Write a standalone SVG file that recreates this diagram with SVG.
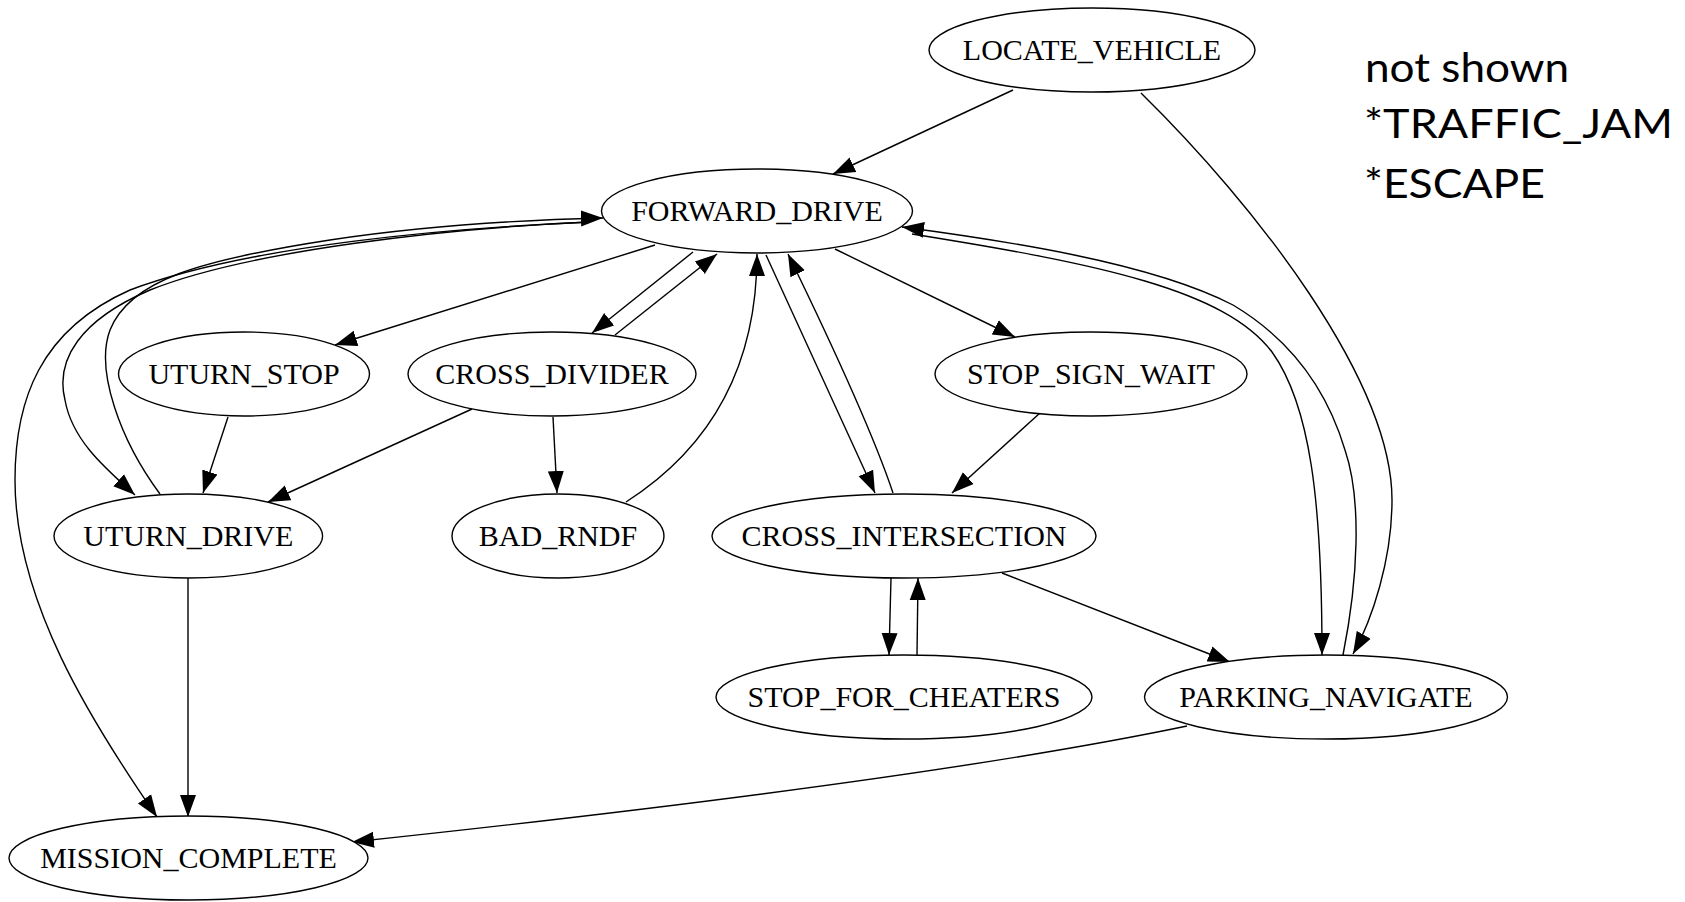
<svg xmlns="http://www.w3.org/2000/svg" width="1685" height="902" viewBox="0 0 1685 902">
<defs>
<marker id="arr" markerUnits="userSpaceOnUse" markerWidth="24" markerHeight="18" refX="22" refY="8" orient="auto" viewBox="0 0 24 16">
<path d="M0,0 L22,8 L0,16 z" fill="#000"/>
</marker>
</defs>
<style>
.node ellipse{fill:#fff;stroke:#000;stroke-width:1.4}
.node text{font-family:"Liberation Serif","Times New Roman",serif;font-size:30px;fill:#000;text-anchor:middle}
.edges path{fill:none;stroke:#000;stroke-width:1.4}
.edges path.a{marker-end:url(#arr)}
.note{font-family:Lato,"Open Sans",sans-serif;font-size:41px;fill:#000}
</style>
<rect width="1685" height="902" fill="#fff"/>
<g class="edges" id="connectors">
<path class="a" d="M1013,90 L833,174"/>
<path class="a" d="M1141,93 C1255,205 1392,380 1392,500 C1392,560 1372,620 1353,654"/>
<path class="a" d="M655,245 L335,345"/>
<path class="a" d="M693,252 L592,333"/>
<path class="a" d="M615,335 L717,254"/>
<path class="a" d="M626,502 C715,445 757,360 757,254"/>
<path class="a" d="M766,255 L875,493"/>
<path class="a" d="M893,493 C872,430 825,330 788,254"/>
<path class="a" d="M835,249 L1015,337"/>
<path class="a" d="M912,234 C1100,264 1225,290 1272,352 C1310,405 1322,500 1322,655"/>
<path class="a" d="M1343,655 C1358,580 1362,500 1345,450 C1330,400 1300,345 1233,305 C1150,262 1000,240 902,227"/>
<path class="a" d="M160,494 C120,440 95,370 110,330 C130,280 200,260 330,240 C430,225 520,220 603,218"/>
<path class="a" d="M590,222 C450,228 250,250 150,290 C80,320 55,360 65,400 C72,440 105,468 135,495"/>
<path class="a" d="M590,222 C450,228 250,245 130,290 C40,330 15,400 15,480 C15,600 90,720 157,817"/>
<path class="a" d="M228,417 L203,493"/>
<path class="a" d="M472,409 L268,502"/>
<path class="a" d="M553,417 L557,493"/>
<path class="a" d="M1040,413 L952,493"/>
<path class="a" d="M891,578 L889,655"/>
<path class="a" d="M917,655 L918,578"/>
<path class="a" d="M1002,573 L1230,662"/>
<path class="a" d="M188,578 L188,817"/>
<path class="a" d="M1187,726 C1000,765 700,805 352,842"/>
</g>
<g class="node" id="LOCATE_VEHICLE"><ellipse cx="1092" cy="50" rx="163" ry="42"/><text x="1092" y="60">LOCATE_VEHICLE</text></g>
<g class="node" id="FORWARD_DRIVE"><ellipse cx="757" cy="211" rx="155.5" ry="42"/><text x="757" y="221">FORWARD_DRIVE</text></g>
<g class="node" id="UTURN_STOP"><ellipse cx="244" cy="374" rx="125.5" ry="42"/><text x="244" y="384">UTURN_STOP</text></g>
<g class="node" id="CROSS_DIVIDER"><ellipse cx="552" cy="374" rx="144" ry="42"/><text x="552" y="384">CROSS_DIVIDER</text></g>
<g class="node" id="STOP_SIGN_WAIT"><ellipse cx="1091" cy="374" rx="156" ry="42"/><text x="1091" y="384">STOP_SIGN_WAIT</text></g>
<g class="node" id="UTURN_DRIVE"><ellipse cx="188.3" cy="536" rx="134.3" ry="42"/><text x="188.3" y="546">UTURN_DRIVE</text></g>
<g class="node" id="BAD_RNDF"><ellipse cx="558" cy="536" rx="106" ry="42"/><text x="558" y="546">BAD_RNDF</text></g>
<g class="node" id="CROSS_INTERSECTION"><ellipse cx="904" cy="536" rx="192" ry="42"/><text x="904" y="546">CROSS_INTERSECTION</text></g>
<g class="node" id="STOP_FOR_CHEATERS"><ellipse cx="904" cy="697" rx="188" ry="42"/><text x="904" y="707">STOP_FOR_CHEATERS</text></g>
<g class="node" id="PARKING_NAVIGATE"><ellipse cx="1326" cy="697" rx="181.5" ry="42"/><text x="1326" y="707">PARKING_NAVIGATE</text></g>
<g class="node" id="MISSION_COMPLETE"><ellipse cx="188.5" cy="858" rx="179.5" ry="42"/><text x="188.5" y="868">MISSION_COMPLETE</text></g>
<g id="note">
<text class="note" x="1365" y="82" textLength="204" lengthAdjust="spacingAndGlyphs">not shown</text>
<text class="note" x="1364" y="138" textLength="309" lengthAdjust="spacingAndGlyphs">*TRAFFIC_JAM</text>
<text class="note" x="1364" y="198" textLength="181" lengthAdjust="spacingAndGlyphs">*ESCAPE</text>
</g>
</svg>
